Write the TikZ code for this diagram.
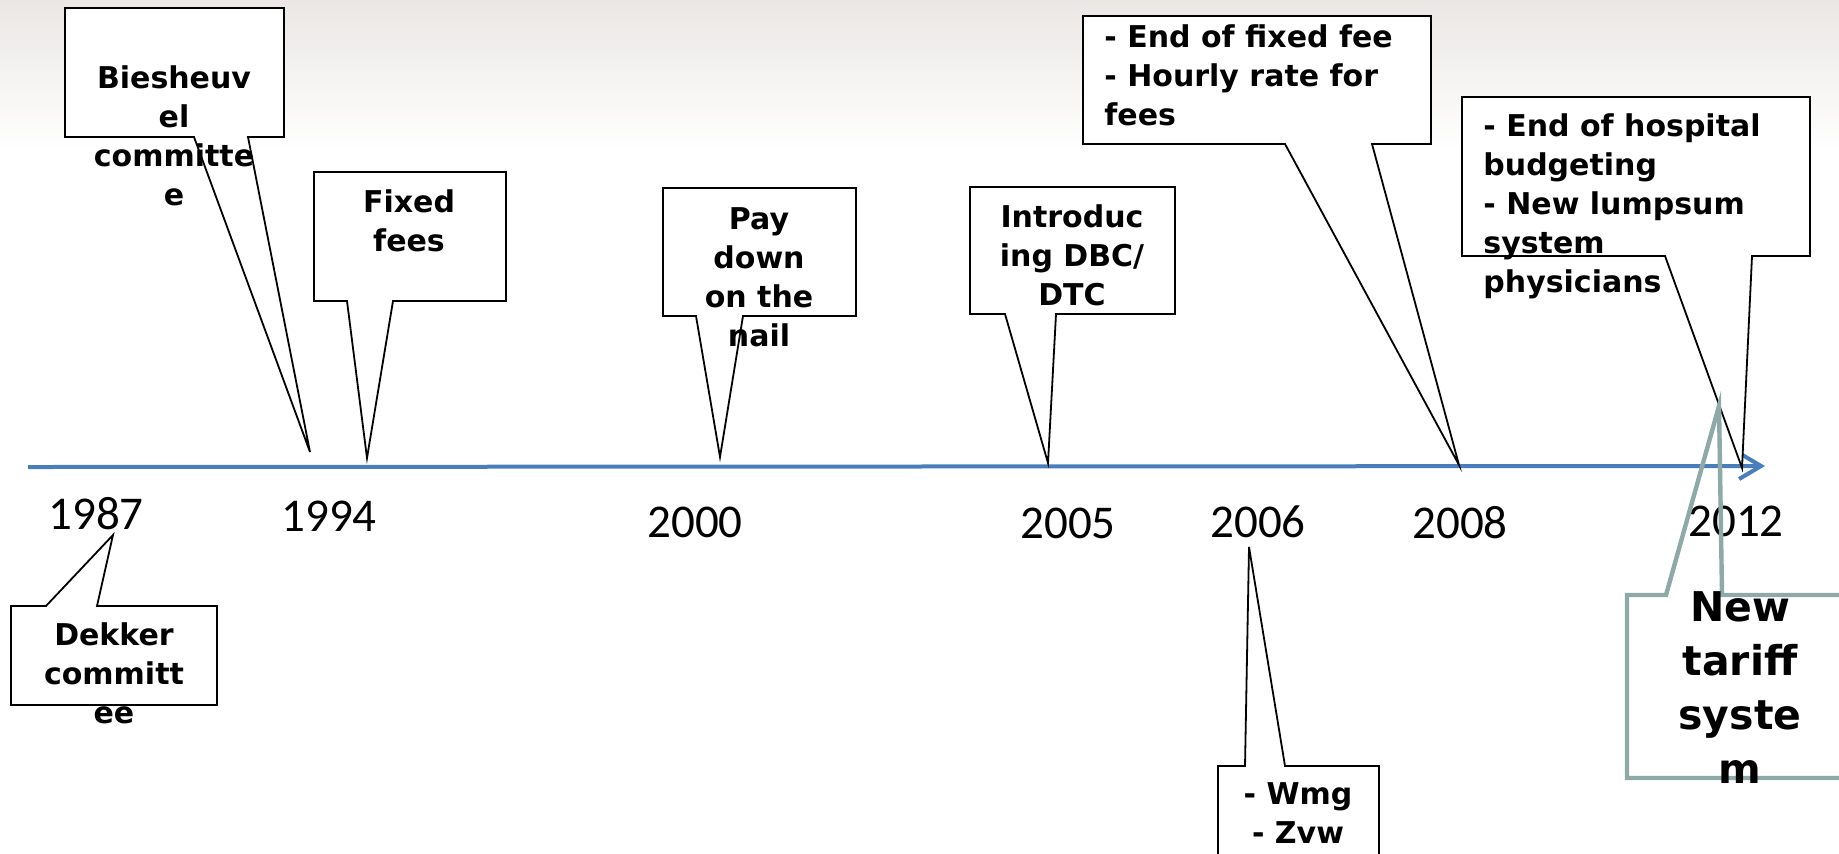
\documentclass[tikz,border=0pt]{standalone}
\usepackage{fontspec}
\setmainfont{DejaVu Sans}
\newfontfamily\yearfont{Carlito}
\usetikzlibrary{arrows.meta}
\definecolor{axisblue}{RGB}{74,126,187}
\definecolor{tariffgray}{RGB}{143,168,168}
\definecolor{slidetop}{RGB}{234,231,228}
\tikzset{
  timeline/.style={draw=axisblue, line width=2pt, -{Straight Barb[length=11pt,width=13pt,line width=2pt]}},
  callout/.style={draw=black, fill=white, line width=0.9pt, line join=miter},
  graycallout/.style={draw=tariffgray, line width=2.2pt},
  calltext/.style={font=\bfseries\fontsize{15}{19.4}\selectfont, inner sep=0pt, align=center, anchor=base},
  leftcalltext/.style={calltext, align=left, anchor=base west},
  bigcalltext/.style={font=\bfseries\fontsize{20.5}{27}\selectfont, inner sep=0pt, align=center, anchor=base},
  year/.style={font=\yearfont\fontsize{23.5}{28}\selectfont, inner sep=0pt, anchor=base}
}
\begin{document}
\begin{tikzpicture}[x=0.5pt,y=-0.5pt]
  \useasboundingbox (0,0) rectangle (1839,853);
  \clip (0,0) rectangle (1839,853);
  \fill[white] (0,0) rectangle (1839,853);
  \shade[top color=slidetop, bottom color=white] (0,0) rectangle (1839,150);

  % time axis
  \coordinate (start) at (28,467);
  \coordinate (end) at (1765,466);
  \draw[timeline] (start) -- (end);

  % years
  \node[year] (y1987) at (96,529) {1987};
  \node[year] (y1994) at (329,531) {1994};
  \node[year] (y2000) at (695,537) {2000};
  \node[year] (y2005) at (1068,538) {2005};
  \node[year] (y2006) at (1258,537) {2006};
  \node[year] (y2008) at (1460,538) {2008};
  \node[year] (y2012) at (1736,536) {2012};

  % tips of the callouts
  \coordinate (tBies) at (310,452);
  \coordinate (tFixed) at (367,458);
  \coordinate (tPay) at (720,457);
  \coordinate (tDbc) at (1048,463);
  \coordinate (tHourly) at (1459,465);
  \coordinate (tLump) at (1742,468);
  \coordinate (tDekker) at (113,535);
  \coordinate (tWmg) at (1249,547);
  \coordinate (tTariff) at (1719,406);

  % callouts above the axis (text base = last line)
  \draw[callout] (65,8) -- (284,8) -- (284,137) -- (248,137) -- (tBies) -- (194,137) -- (65,137) -- cycle;
  \node[calltext] (bies) at (174,205) {Biesheuv\\el\\committe\\e};

  \draw[callout] (314,172) -- (506,172) -- (506,301) -- (393,301) -- (tFixed) -- (347,301) -- (314,301) -- cycle;
  \node[calltext] (fixed) at (409,251) {Fixed\\fees};

  \draw[callout] (663,188) -- (856,188) -- (856,316) -- (743,316) -- (tPay) -- (696,316) -- (663,316) -- cycle;
  \node[calltext] (pay) at (759,346) {Pay\\down\\on the\\nail};

  \draw[callout] (970,187) -- (1175,187) -- (1175,314) -- (1056,314) -- (tDbc) -- (1005,314) -- (970,314) -- cycle;
  \node[calltext] (dbc) at (1072,305) {Introduc\\ing DBC/\\DTC};

  \draw[callout] (1083,16) -- (1431,16) -- (1431,144) -- (1372,144) -- (tHourly) -- (1285,144) -- (1083,144) -- cycle;
  \node[leftcalltext] (hourly) at (1104,125) {- End of fixed fee\\- Hourly rate for\\fees};

  \draw[callout] (1462,97) -- (1810,97) -- (1810,256) -- (1752,256) -- (tLump) -- (1665,256) -- (1462,256) -- cycle;
  \node[leftcalltext] (lump) at (1483,292) {- End of hospital\\budgeting\\- New lumpsum\\system\\physicians};

  % callouts below the axis
  \draw[callout] (11,606) -- (46,606) -- (tDekker) -- (97,606) -- (217,606) -- (217,705) -- (11,705) -- cycle;
  \node[calltext] (dekker) at (114,723) {Dekker\\committ\\ee};

  \draw[callout] (1218,766) -- (1245,766) -- (tWmg) -- (1285,766) -- (1379,766) -- (1379,900) -- (1218,900) -- cycle;
  \node[calltext] (wmg) at (1298,843) {- Wmg\\- Zvw};

  \draw[graycallout] (1627,595) -- (1666,595) -- (tTariff) -- (1722,595) -- (1900,595) -- (1900,778) -- (1627,778) -- cycle;
  \node[bigcalltext] (tariff) at (1740,783) {New\\tariff\\syste\\m};
\end{tikzpicture}
\end{document}
